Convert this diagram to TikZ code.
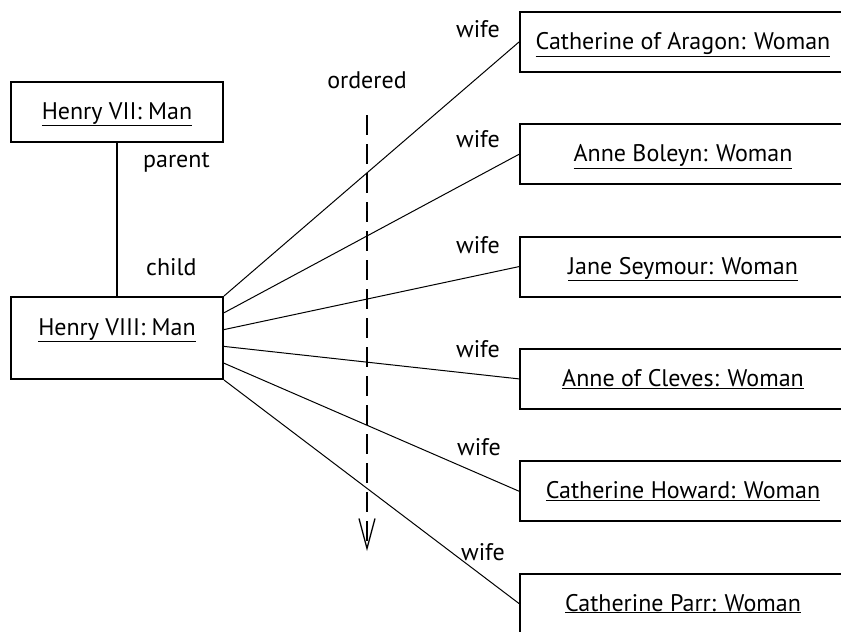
\documentclass[tikz,border=0pt]{standalone}
\usepackage{fontspec}
\setmainfont{PT Sans}
\usetikzlibrary{calc,arrows.meta}

\begin{document}
\begin{tikzpicture}[x=1pt, y=-1pt,
    obj/.style={draw, line width=2pt, inner sep=0pt, minimum height=60pt,
                text height=37.5pt, text depth=22.5pt},
    link/.style={line width=1pt},
    role/.style={anchor=base east}]

    \fontsize{24}{28}\selectfont
    \useasboundingbox (0,0) rectangle (841,632);

    \node[obj, minimum width=212pt] (henry7) at (117, 111.5) {\underline{Henry VII: Man}};
    \node[obj, minimum width=212pt, text height=38pt, text depth=44pt] (henry8) at (117, 338) {\underline{Henry VIII: Man}};

    \draw[link, line width=1.6pt] (henry7) -- (henry8);
    \node[anchor=base west] (parent) at (135, 167) {parent};
    \node[anchor=base west] (child)  at (138, 275) {child};

    \foreach \name [count=\i] in {Catherine of Aragon, Anne Boleyn, Jane Seymour,
                                  Anne of Cleves, Catherine Howard, Catherine Parr} {
      \node[obj, minimum width=360pt] (wife\i) at (700, {42+112.3*(\i-1)}) {\underline{\name: Woman}\hspace*{34pt}};
      \draw[link] ($(henry8.north east)!{(\i-1)/5}!(henry8.south east)$) -- (wife\i.west);
    }

    \foreach \i/\x/\y in {1/508/37, 2/508/147, 3/508/253, 4/508/357, 5/509/455, 6/513/560} {
      \node[role] (role\i) at (\x, \y) {wife};
    }

    \node[anchor=base] (ordered) at (367, 88) {ordered};
    \coordinate (ordtop) at (367, 115);
    \coordinate (ordend) at (367, 551);
    \draw[line width=2pt, dash pattern=on 20pt off 9pt,
          -{Straight Barb[length=30pt, width=16pt, line width=1.3pt]}] (ordtop) -- (ordend);

\end{tikzpicture}
\end{document}
